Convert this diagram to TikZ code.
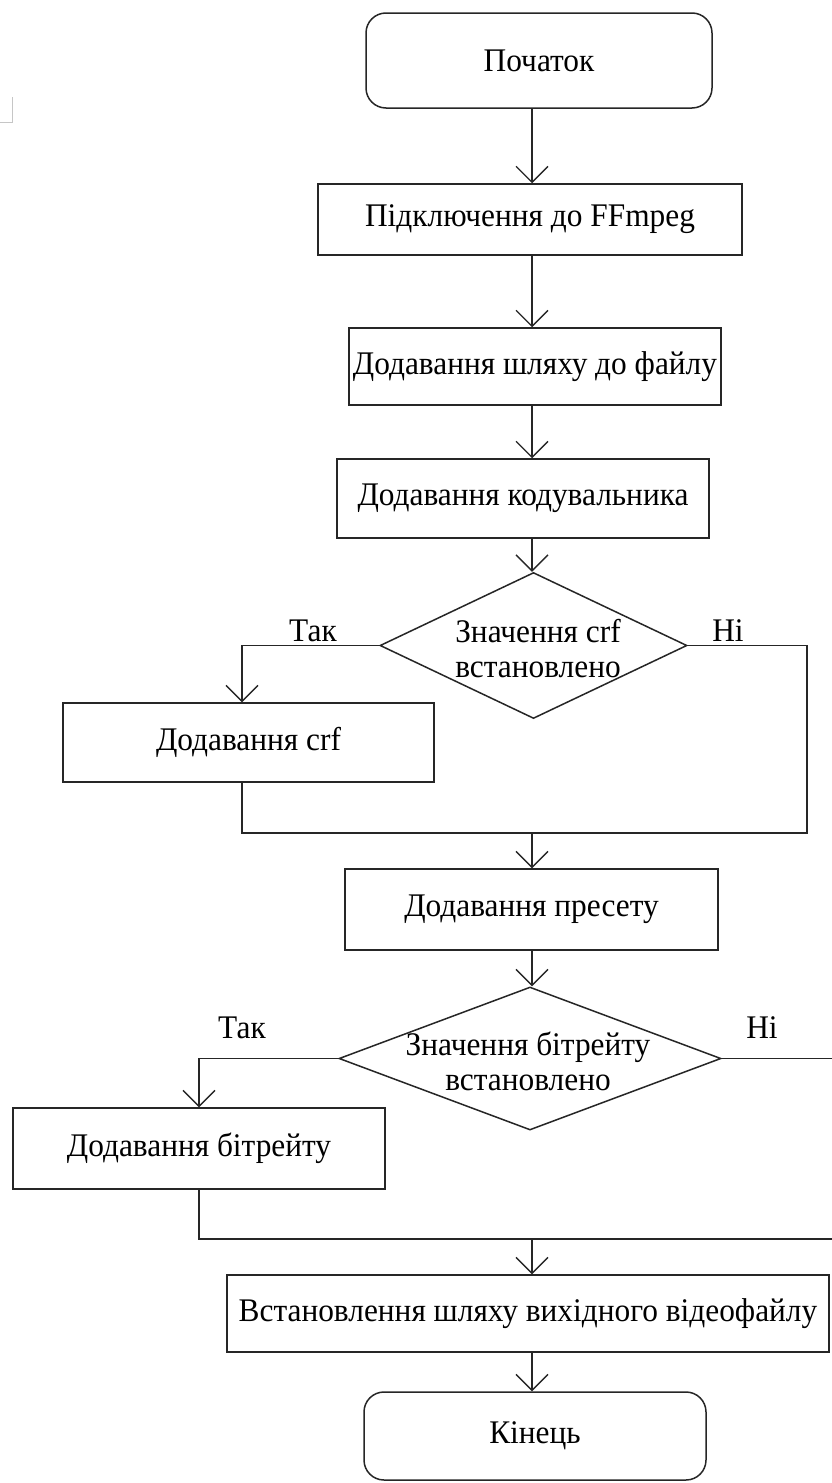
\documentclass[tikz,border=0pt]{standalone}
\usepackage{fontspec}
\setmainfont{Liberation Serif}[FakeStretch=0.95]
\usetikzlibrary{arrows.meta,shapes.geometric}
\begin{document}
\begin{tikzpicture}[x=1pt,y=-1pt,
  every node/.style={font=\fontsize{33}{35}\selectfont, text=black},
  box/.style={draw=black!85, line width=1.5pt, rectangle, inner sep=0pt},
  term/.style={box, rounded corners=20pt},
  dec/.style={draw=black!85, line width=1.5pt, diamond, inner sep=0pt},
  lbl/.style={anchor=base, inner sep=0pt},
  conn/.style={draw=black!85, line width=1.5pt},
  arr/.style={conn, -{Straight Barb[length=16pt,width=32pt,line width=1.3pt]}}
]
\fill[white] (0,0) rectangle (831,1483);
\useasboundingbox (0,0) rectangle (831,1483);
% small artifact
\draw[gray!45, line width=1pt] (0,122) -- (12,122) -- (12,97);

\coordinate (col) at (532,0);
\node[term, minimum width=346pt, minimum height=95pt] (start) at (539,60.5) {Початок};
\node[box, minimum width=424pt, minimum height=71pt] (b2) at (530,219.5) {Підключення до FFmpeg};
\node[box, minimum width=372pt, minimum height=77pt] (b3) at (535,366.5) {Додавання шляху до файлу};
\node[box, minimum width=372pt, minimum height=79pt] (b4) at (523,498.5) {Додавання кодувальника};
\node[dec, minimum width=307pt, minimum height=146pt] (d1) at (533.5,645.5) {};
\node[align=center, inner sep=0pt] (d1t) at (538,649) {Значення crf\\встановлено};
\node[lbl] (yes1) at (313,641) {Так};
\node[lbl] (no1) at (728,641) {Ні};
\node[box, minimum width=371pt, minimum height=79pt] (crf) at (248.5,742.5) {Додавання crf};
\coordinate (l1) at (242,645.5);
\coordinate (r1) at (807,645.5);
\coordinate (m1) at (532,833);
\node[box, minimum width=373pt, minimum height=81pt] (pre) at (531.5,909.5) {Додавання пресету};
\node[dec, minimum width=382pt, minimum height=143pt] (d2) at (530,1058.5) {};
\node[align=center, inner sep=0pt] (d2t) at (528,1061) {Значення бітрейту\\встановлено};
\node[lbl] (yes2) at (242,1038) {Так};
\node[lbl] (no2) at (762,1038) {Ні};
\node[box, minimum width=372pt, minimum height=81pt] (bit) at (199,1148.5) {Додавання бітрейту};
\coordinate (r2) at (845,1058.5);
\coordinate (m2) at (532,1239);
\node[box, minimum width=602pt, minimum height=77pt] (fin) at (528,1313.5) {Встановлення шляху вихідного відеофайлу};
\node[term, minimum width=342pt, minimum height=88pt] (stop) at (535,1436) {Кінець};

\draw[arr] (start.south -| col) -- (b2.north -| col);
\draw[arr] (b2.south -| col) -- (b3.north -| col);
\draw[arr] (b3.south -| col) -- (b4.north -| col);
\draw[arr] (b4.south -| col) -- (d1.north -| col);
\draw[arr] (d1.west) -- (l1) -- (l1 |- crf.north);
\draw[conn] (d1.east) -- (r1) -- (r1 |- m1) -- (l1 |- m1) -- (l1 |- crf.south);
\draw[arr] (m1) -- (pre.north -| m1);
\draw[arr] (pre.south -| col) -- (d2.north -| col);
\draw[arr] (d2.west) -| (bit.north);
\draw[conn] (d2.east) -- (r2) -- (r2 |- m2) -- (bit.south |- m2) -- (bit.south);
\draw[arr] (m2) -- (fin.north -| m2);
\draw[arr] (fin.south -| col) -- (stop.north -| col);
\end{tikzpicture}
\end{document}
